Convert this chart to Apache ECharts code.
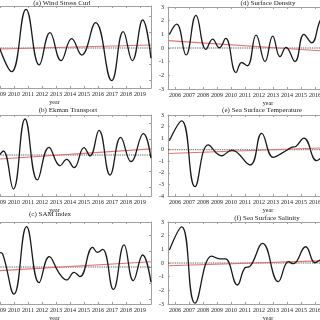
<!DOCTYPE html>
<html><head><meta charset="utf-8">
<script src="https://cdn.jsdelivr.net/npm/echarts@6/dist/echarts.min.js"></script>
<style>html,body{margin:0;padding:0;background:#fff}#c{width:320px;height:320px}</style>
</head><body><div id="c"></div>
<script>
// ---- data ----
const xTickYears = [2006,2007,2008,2009,2010,2011,2012,2013,2014,2015,2016,2017,2018,2019];
const trendYears = [2005.5, 2019.8];
const zeroLine = [0, 0];

const yearsA = [2008.95, 2009.83, 2010.86, 2011.8, 2012.57, 2013.36, 2014.12, 2014.83, 2015.83, 2016.98, 2017.8, 2018.45, 2019.19, 2019.78];
const valuesA = [0.05, -1.48, 2.42, -1.06, 0.96, -0.79, 0.58, -0.44, 1.58, -2.04, 1.02, -0.79, 1.75, -0.64];
const trendA = [-0.14, 0.19];

const yearsB = [2008.95, 2009.24, 2009.95, 2010.79, 2011.67, 2012.5, 2013.29, 2013.76, 2014.29, 2015.0, 2015.43, 2016.07, 2016.86, 2017.62, 2018.36, 2019.24, 2019.78];
const valuesB = [0.0, 0.25, -2.13, 2.25, -1.56, 0.48, -0.67, -0.27, -0.79, 0.46, -0.06, 1.54, -1.25, 1.1, -0.42, 1.33, -0.2];
const trendB = [-0.455, 0.385];

const yearsC = [2008.95, 2009.2, 2010.0, 2010.9, 2011.79, 2012.52, 2013.2, 2013.76, 2014.29, 2014.71, 2015.62, 2015.95, 2016.33, 2017.1, 2017.86, 2018.52, 2019.19, 2019.78];
const valuesC = [0.9, 0.8, -1.69, 2.52, -0.98, 0.65, -0.35, -0.81, -0.33, -0.6, 1.23, 0.92, 1.1, -1.4, 1.38, -0.85, 0.75, -0.95];
const trendC = [-0.41, 0.33];

const yearsD = [2005.6, 2006.12, 2006.79, 2007.5, 2008.21, 2008.69, 2009.17, 2009.62, 2010.36, 2010.76, 2011.17, 2011.79, 2012.43, 2012.98, 2013.5, 2013.93, 2014.57, 2015.21, 2015.76, 2016.36, 2016.6];
const valuesD = [1.0, 1.74, -0.51, 2.39, -0.1, 0.65, 0.02, 0.7, -1.79, -1.06, -1.3, 0.94, -0.99, 0.87, -0.63, 0.05, -0.99, 1.0, 0.38, 2.0, 2.2];
const trendD = [0.54, -0.43];

const yearsE = [2005.6, 2006.48, 2007.43, 2008.38, 2009.33, 2010.05, 2011.36, 2012.19, 2013.02, 2013.7, 2014.33, 2014.65, 2015.21, 2016.12, 2016.5];
const valuesE = [0.78, 2.5, -3.19, 0.41, -0.52, -0.03, -1.32, 1.41, -0.66, -0.25, 0.2, 0.3, 1.01, -0.95, -0.6];
const trendE = [-0.33, 0.30];

const yearsF = [2005.6, 2006.48, 2007.43, 2008.62, 2009.21, 2009.6, 2010.45, 2011.0, 2011.35, 2012.26, 2013.38, 2014.1, 2014.45, 2015.33, 2016.0, 2016.36, 2016.6];
const valuesF = [0.95, 2.65, -2.94, 0.51, 0.3, 0.3, -1.61, -0.35, -0.25, 1.43, -1.36, 0.1, -0.05, 1.19, 0.02, 0.22, 0.3];
const trendF = [-0.2, 0.27];

const titles = ['(a) Wind Stress Curl','(b) Ekman Transport','(c) SAM index','(d) Surface Density','(e) Sea Surface Temperature','(f) Sea Surface Salinity'];
const yTicksLeft = [-2,-1,0,1,2];
const yTicksD = [-3,-2,-1,0,1,2,3];
const yTicksE = [-4,-3,-2,-1,0,1,2,3];
const yTicksF = [-3,-2,-1,0,1,2,3];

// ---- layout ----
const FONT = 'Liberation Serif';
const AX = '#a0a0a0';
const panels = [
  {side:'L', top:6,   height:82, ymin:-2.5,   ymax:2.625,  ticks:yTicksLeft, yrs:yearsA, vals:valuesA, trend:trendA, tx:62,  ty:0},
  {side:'L', top:115, height:81, ymin:-2.5625,ymax:2.5,    ticks:yTicksLeft, yrs:yearsB, vals:valuesB, trend:trendB, tx:68,  ty:107},
  {side:'L', top:222, height:82, ymin:-2.3125,ymax:2.8125, ticks:yTicksLeft, yrs:yearsC, vals:valuesC, trend:trendC, tx:50,  ty:211},
  {side:'R', top:7,   height:82, ymin:-3, ymax:3, ticks:yTicksD, yrs:yearsD, vals:valuesD, trend:trendD, tx:268, ty:0},
  {side:'R', top:115, height:81, ymin:-4, ymax:3, ticks:yTicksE, yrs:yearsE, vals:valuesE, trend:trendE, tx:262, ty:107},
  {side:'R', top:222, height:82, ymin:-3, ymax:3, ticks:yTicksF, yrs:yearsF, vals:valuesF, trend:trendF, tx:267, ty:215}
];
// visible windows (the figure is cropped at both outer edges)
const frame = {
  L:{left:0,   width:151, xmin:2009.0, xmax:2019.786, namePad:[0,42,0,0]},
  R:{left:168, width:152, xmin:2005.5, xmax:2016.357, namePad:[0,0,0,48]}
};

const grid=[], xAxis=[], yAxis=[], series=[], title=[];
panels.forEach((p,i)=>{
  const f = frame[p.side];
  grid.push({left:f.left, top:p.top, width:f.width, height:p.height, containLabel:false, outerBoundsMode:'none'});
  const txt = {fontSize:6, fontFamily:FONT, color:'#222'};
  xAxis.push({gridIndex:i, type:'value', min:f.xmin, max:f.xmax, position:'bottom',
    axisLine:{show:true, onZero:false, lineStyle:{color:AX, width:1}},
    axisTick:{show:true, inside:true, length:2, customValues:xTickYears, lineStyle:{color:AX}},
    axisLabel:Object.assign({customValues:xTickYears, margin:3, hideOverlap:false, showMinLabel:true, showMaxLabel:true, formatter:v=>String(v)}, txt),
    splitLine:{show:false},
    name:'year', nameLocation:'middle', nameGap:11, nameTextStyle:Object.assign({padding:f.namePad}, txt)});
  xAxis.push({gridIndex:i, type:'value', min:f.xmin, max:f.xmax, position:'top',
    axisLine:{show:true, onZero:false, lineStyle:{color:AX, width:1}},
    axisTick:{show:true, inside:true, length:2, customValues:xTickYears, lineStyle:{color:AX}},
    axisLabel:{show:false}, splitLine:{show:false}});
  yAxis.push({gridIndex:i, type:'value', min:p.ymin, max:p.ymax, position:'left',
    axisLine:{show:p.side==='R', onZero:false, lineStyle:{color:AX, width:1}},
    axisTick:{show:p.side==='R', inside:true, length:2, customValues:p.ticks, lineStyle:{color:AX}},
    axisLabel:Object.assign({show:p.side==='R', customValues:p.ticks, margin:4}, txt),
    splitLine:{show:false}});
  yAxis.push({gridIndex:i, type:'value', min:p.ymin, max:p.ymax, position:'right',
    axisLine:{show:p.side==='L', onZero:false, lineStyle:{color:AX, width:1}},
    axisTick:{show:p.side==='L', inside:true, length:2, customValues:p.ticks, lineStyle:{color:AX}},
    axisLabel:{show:false}, splitLine:{show:false}});
  series.push({type:'line', xAxisIndex:2*i, yAxisIndex:2*i, symbol:'none', silent:true,
    data:trendYears.map((y,k)=>[y,zeroLine[k]]),
    lineStyle:{color:'#333', width:0.9, type:'dotted'}, z:2});
  series.push({type:'line', xAxisIndex:2*i, yAxisIndex:2*i, symbol:'none', silent:true,
    data:trendYears.map((y,k)=>[y,p.trend[k]]),
    lineStyle:{color:'#e27272', width:1.1}, z:3});
  series.push({type:'line', xAxisIndex:2*i, yAxisIndex:2*i, symbol:'none', silent:true, smooth:0.45,
    data:p.yrs.map((y,k)=>[y,p.vals[k]]),
    lineStyle:{color:'#1a1a1a', width:1.3}, z:4});
  title.push({text:titles[i], left:p.tx, top:p.ty, textAlign:'center', padding:0,
    textStyle:{fontSize:7, fontFamily:FONT, fontWeight:'normal', color:'#222'}});
});

const chart = echarts.init(document.getElementById('c'), null, {renderer:'canvas'});
chart.setOption({animation:false, backgroundColor:'#fff', title, grid, xAxis, yAxis, series});
</script></body></html>
